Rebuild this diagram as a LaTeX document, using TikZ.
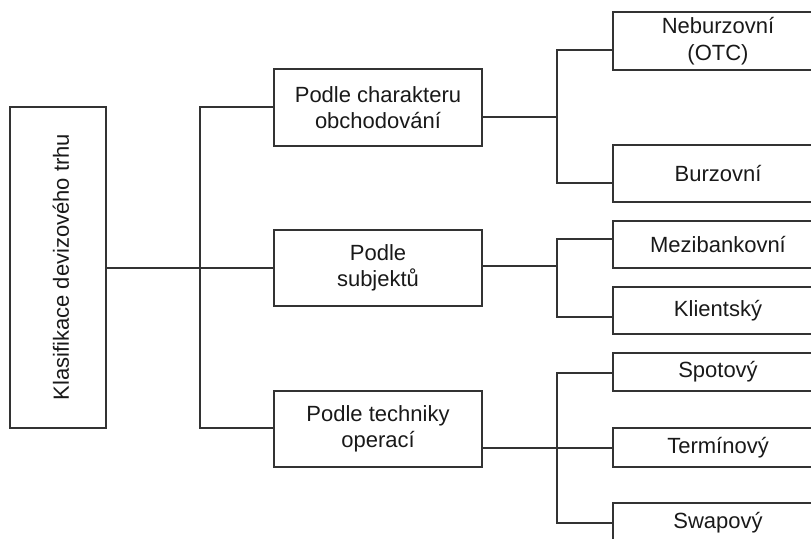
\documentclass[tikz,border=0pt]{standalone}
\usepackage{fontspec}
\setmainfont{Liberation Sans}
\begin{document}
\begin{tikzpicture}[x=1pt,y=-1pt,
  box/.style={draw=black!80,line width=1.3pt,rectangle,inner sep=0pt,align=center,
    text=black!90,font=\fontsize{22}{26.5}\selectfont},
  conn/.style={draw=black!80,line width=1.3pt}]
\useasboundingbox (0,0) rectangle (811,538);
\clip (0,0) rectangle (811,538);
% root
\node[box,minimum width=96pt,minimum height=321pt] (root) at (58,267.5) {};
\node[rotate=90,text=black!90,font=\fontsize{22}{26.5}\selectfont,inner sep=0pt] (roottext) at (61,267) {Klasifikace devizového trhu};
% categories
\node[box,minimum width=208pt,minimum height=77pt] (c1) at (378,107.5) {Podle charakteru\\obchodování};
\node[box,minimum width=208pt,minimum height=76pt] (c2) at (378,268) {Podle\\subjektů};
\node[box,minimum width=208pt,minimum height=76pt] (c3) at (378,429) {Podle techniky\\operací};
% leaves
\node[box,minimum width=210pt,minimum height=58pt] (r1) at (718,41) {Neburzovní\\(OTC)};
\node[box,minimum width=210pt,minimum height=57pt] (r2) at (718,173.5) {Burzovní};
\node[box,minimum width=210pt,minimum height=47pt] (r3) at (718,244.5) {Mezibankovní};
\node[box,minimum width=210pt,minimum height=47pt] (r4) at (718,310.5) {Klientský};
\node[box,minimum width=210pt,minimum height=38pt] (r5) at (718,372) {Spotový};
\node[box,minimum width=210pt,minimum height=39pt] (r6) at (718,447.5) {Termínový};
\node[box,minimum width=210pt,minimum height=39pt] (r7) at (718,522.5) {Swapový};
% left tree
\coordinate (t0) at (200,268);
\coordinate (t1) at (200,107);
\coordinate (t3) at (200,428);
\draw[conn] (root.east |- t0) -- (t0) -- (c2.west |- t0);
\draw[conn] (c1.west |- t1) -- (t1) -- (t3) -- (c3.west |- t3);
% group 1
\coordinate (g1) at (557,117);
\coordinate (g1a) at (557,50);
\coordinate (g1b) at (557,183);
\draw[conn] (c1.east |- g1) -- (g1);
\draw[conn] (r1.west |- g1a) -- (g1a) -- (g1b) -- (r2.west |- g1b);
% group 2
\coordinate (g2) at (557,266);
\coordinate (g2a) at (557,239);
\coordinate (g2b) at (557,317);
\draw[conn] (c2.east |- g2) -- (g2);
\draw[conn] (r3.west |- g2a) -- (g2a) -- (g2b) -- (r4.west |- g2b);
% group 3
\coordinate (g3) at (557,448);
\coordinate (g3a) at (557,373);
\coordinate (g3b) at (557,523);
\draw[conn] (c3.east |- g3) -- (r6.west |- g3);
\draw[conn] (r5.west |- g3a) -- (g3a) -- (g3b) -- (r7.west |- g3b);
\end{tikzpicture}
\end{document}
